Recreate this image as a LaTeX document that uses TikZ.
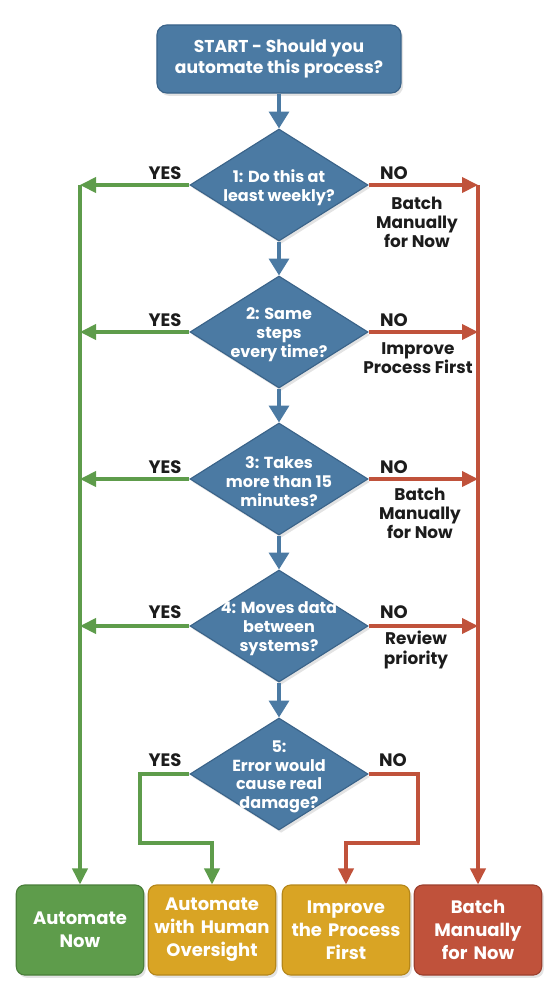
\documentclass[tikz,border=0pt]{standalone}
\usepackage{fontspec}
\setmainfont{Poppins}
\usepackage{tikz}
\usetikzlibrary{
arrows.meta,
positioning,
calc,
shapes.geometric,
shadows
}
\usepackage{xcolor}

\definecolor{flowblue}{HTML}{4B7AA3}
\definecolor{flowedge}{HTML}{3A6389}
\definecolor{yesgreen}{HTML}{5E9C4B}
\definecolor{yesedge}{HTML}{4A7E3A}
\definecolor{nored}{HTML}{C0523B}
\definecolor{noedge}{HTML}{9C3F2D}
\definecolor{careyellow}{HTML}{D9A424}
\definecolor{careedge}{HTML}{B5871A}
\definecolor{labelink}{HTML}{1C1C1C}

\begin{document}
\begin{tikzpicture}[x=0.025cm, y=-0.025cm,
    softshadow/.style={drop shadow={opacity=0.22, shadow xshift=1.5pt, shadow yshift=-2pt}},
    startbox/.style={rectangle, rounded corners=7pt, draw=flowedge, fill=flowblue, line width=0.8pt,
        minimum width=6.1cm, minimum height=1.7cm, text=white, align=center,
        font=\bfseries\fontsize{12.2}{15}\selectfont, softshadow},
    decision/.style={diamond, draw=flowedge, fill=flowblue, line width=0.8pt,
        minimum width=4.45cm, minimum height=2.8cm, inner sep=0pt, softshadow},
    qtext/.style={text=white, align=center, inner sep=0pt, yshift=-2pt,
        font=\bfseries\fontsize{11.4}{13.4}\selectfont},
    outcome/.style={rectangle, rounded corners=6pt, line width=0.8pt,
        minimum width=2.975cm, minimum height=2.25cm, text width=2.95cm, text=white, align=center,
        font=\bfseries\fontsize{12.8}{16.3}\selectfont, softshadow},
    answer/.style={text=labelink, inner sep=1pt, font=\bfseries\fontsize{12.8}{14}\selectfont},
    sidenote/.style={text=labelink, align=center, inner sep=1pt, font=\bfseries\fontsize{12}{13.6}\selectfont},
    flowarrow/.style={draw=flowblue, line width=2.2pt, -{Triangle[width=0.5cm, length=0.42cm]}},
    yesline/.style={draw=yesgreen, line width=2.3pt},
    yesarrow/.style={yesline, -{Triangle[width=0.38cm, length=0.4cm]}},
    noline/.style={draw=nored, line width=2.3pt},
    noarrow/.style={noline, -{Triangle[width=0.38cm, length=0.4cm]}}
]

    \useasboundingbox (0,0) rectangle (558,1000);

    % ==================== START ====================
    \node [startbox] (start) at (279, 59) {START - Should you\\automate this process?};

    % ==================== DECISIONS ====================
    % 1: frequency
    \node [decision] (q1) at (279, 185) {};
    \node [qtext] (q1t) at (q1) {1: Do this at\\least weekly?};

    % 2: same steps
    \node [decision] (q2) at (279, 332) {};
    \node [qtext] (q2t) at (q2) {2: Same\\steps\\every time?};

    % 3: duration
    \node [decision] (q3) at (279, 479) {};
    \node [qtext] (q3t) at (q3) {3: Takes\\more than 15\\minutes?};

    % 4: data between systems
    \node [decision] (q4) at (279, 626) {};
    \node [qtext] (q4t) at (q4) {4: Moves data\\between\\systems?};

    % 5: risk of error
    \node [decision] (q5) at (279, 774) {};
    \node [qtext] (q5t) at (q5) {5:\\Error would\\cause real\\damage?};

    % ==================== OUTCOMES ====================
    \node [outcome, fill=yesgreen, draw=yesedge] (autonow) at (80, 930) {Automate\\Now};
    \node [outcome, fill=careyellow, draw=careedge] (oversight) at (212, 930) {Automate\\with Human\\Oversight};
    \node [outcome, fill=careyellow, draw=careedge] (improve) at (346, 930) {Improve\\the Process\\First};
    \node [outcome, fill=nored, draw=noedge] (batch) at (478, 930) {Batch\\Manually\\for Now};

    % ==================== MAIN SPINE ====================
    \draw [flowarrow] (start) -- (q1);
    \draw [flowarrow] (q1) -- (q2);
    \draw [flowarrow] (q2) -- (q3);
    \draw [flowarrow] (q3) -- (q4);
    \draw [flowarrow] (q4) -- (q5);

    % ==================== YES BRANCHES (left rail) ====================
    \draw [yesarrow] (q1.west) -- (q1.west -| autonow.north);
    \draw [yesarrow] (q2.west) -- (q2.west -| autonow.north);
    \draw [yesarrow] (q3.west) -- (q3.west -| autonow.north);
    \draw [yesarrow] (q4.west) -- (q4.west -| autonow.north);
    \draw [yesarrow] (q1.west -| autonow.north) -- (autonow.north);

    % ==================== NO BRANCHES (right rail) ====================
    \draw [noarrow] (q1.east) -- (q1.east -| batch.north);
    \draw [noarrow] (q2.east) -- (q2.east -| batch.north);
    \draw [noarrow] (q3.east) -- (q3.east -| batch.north);
    \draw [noarrow] (q4.east) -- (q4.east -| batch.north);
    \draw [noarrow] (q1.east -| batch.north) -- (batch.north);

    % ==================== LAST QUESTION ====================
    \coordinate (yesbend) at (140, 843);
    \coordinate (nobend) at (418, 843);
    \draw [yesarrow] (q5.west) -| (yesbend) -| (oversight.north);
    \draw [noarrow] (q5.east) -| (nobend) -| (improve.north);

    % ==================== LABELS ====================
    \node [answer] (yes1) at (165, 173) {YES};
    \node [answer] (no1) at (394, 173) {NO};
    \node [answer] (yes2) at (165, 320) {YES};
    \node [answer] (no2) at (394, 320) {NO};
    \node [answer] (yes3) at (165, 467) {YES};
    \node [answer] (no3) at (394, 467) {NO};
    \node [answer] (yes4) at (165, 612) {YES};
    \node [answer] (no4) at (394, 612) {NO};
    \node [answer] (yes5) at (165, 760) {YES};
    \node [answer] (no5) at (393, 760) {NO};

    \node [sidenote] (note1) at (417, 222) {Batch\\Manually\\for Now};
    \node [sidenote] (note2) at (418, 358) {Improve\\Process First};
    \node [sidenote] (note3) at (420, 513) {Batch\\Manually\\for Now};
    \node [sidenote] (note4) at (416, 650) {Review\\priority};

\end{tikzpicture}
\end{document}
